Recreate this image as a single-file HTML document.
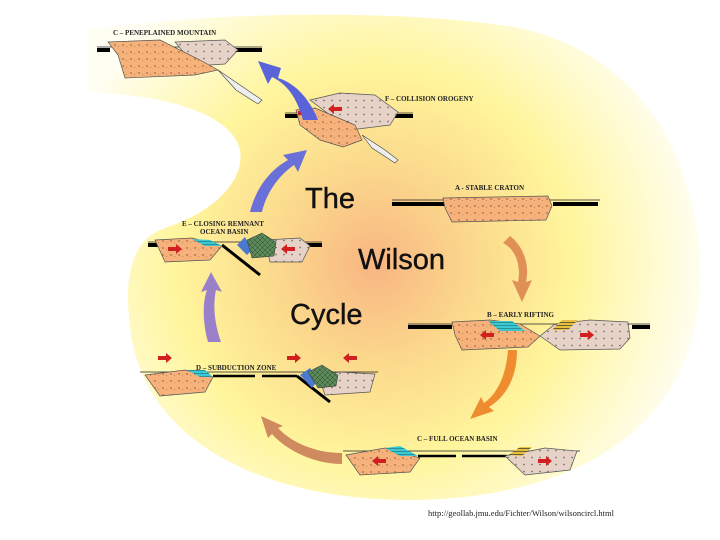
<!DOCTYPE html>
<html><head><meta charset="utf-8"><style>
html,body{margin:0;padding:0;background:#fff;}
svg{display:block;}
.lab{font-family:"Liberation Serif",serif;font-weight:bold;font-size:7px;fill:#222;}
.big{font-family:"Liberation Sans","DejaVu Sans",sans-serif;font-size:29px;fill:#111;stroke:#111;stroke-width:0.4;}
</style></head><body>
<svg width="720" height="540" viewBox="0 0 720 540" xmlns="http://www.w3.org/2000/svg">
<defs>
<radialGradient id="bg" cx="375" cy="265" r="330" gradientUnits="userSpaceOnUse">
<stop offset="0" stop-color="#f8b582"/>
<stop offset="0.3" stop-color="#fbd98c"/>
<stop offset="0.6" stop-color="#fff59c"/>
<stop offset="0.85" stop-color="#fffbd2"/>
<stop offset="1" stop-color="#fffef2"/>
</radialGradient>
<pattern id="po" width="8" height="7" patternUnits="userSpaceOnUse"><rect width="8" height="7" fill="#f6b27a"/><path d="M2 2l1 2l1-2M6 5l1-1" stroke="#8a5a3a" stroke-width="0.5" fill="none"/></pattern>
<pattern id="pp" width="8" height="7" patternUnits="userSpaceOnUse"><rect width="8" height="7" fill="#e6d2c6"/><path d="M3 2.5h2M4 1.5v2" stroke="#555" stroke-width="0.5"/></pattern>
<pattern id="pg" width="5" height="5" patternUnits="userSpaceOnUse"><rect width="5" height="5" fill="#5c8a5a"/><path d="M0 0l5 5M5 0l-5 5" stroke="#2e4e2e" stroke-width="0.5"/></pattern>
<pattern id="pc" width="4" height="3" patternUnits="userSpaceOnUse"><rect width="4" height="3" fill="#3cc8d0"/><path d="M0 1.5h4" stroke="#1a5a6a" stroke-width="0.5"/></pattern>
<pattern id="py" width="4" height="3" patternUnits="userSpaceOnUse"><rect width="4" height="3" fill="#e8c040"/><path d="M0 1.5h4" stroke="#333" stroke-width="0.7"/></pattern>
</defs>
<path d="M88,30 C200,12 400,8 520,28 C640,55 705,160 700,290 C692,420 590,495 420,500 C260,502 150,440 132,340 C122,280 130,240 165,228 C215,212 245,180 240,150 C232,115 170,95 88,92 Z" fill="url(#bg)"/>

<!-- G peneplained -->
<text class="lab" x="113" y="35">C – PENEPLAINED MOUNTAIN</text>
<path d="M97,47H262" stroke="#222" stroke-width="0.8"/>
<path d="M97,50H110M235,50H262" stroke="#000" stroke-width="4"/>
<path d="M175,42L225,40L238,50L225,64L195,66Z" fill="url(#pp)" stroke="#555" stroke-width="0.7"/>
<path d="M108,42L160,40L200,60L218,70L195,75L125,78L118,55Z" fill="url(#po)" stroke="#555" stroke-width="0.7"/>
<path d="M218,70L240,85L262,100L258,104L236,90Z" fill="#eee" stroke="#444" stroke-width="0.6"/>

<!-- F collision -->
<text class="lab" x="385" y="101">F – COLLISION OROGENY</text>
<path d="M285,113H413" stroke="#222" stroke-width="0.8"/>
<path d="M285,116H300M395,116H413" stroke="#000" stroke-width="4"/>
<path d="M310,100L340,93L375,95L398,112L390,125L350,130Z" fill="url(#pp)" stroke="#555" stroke-width="0.7"/>
<path d="M296,110L315,108L355,125L362,140L343,147L320,140L300,125Z" fill="url(#po)" stroke="#555" stroke-width="0.7"/>
<path d="M362,135L385,150L398,160L395,163L372,148Z" fill="#eee" stroke="#444" stroke-width="0.6"/>
<path d="M328,107h8v-3l6,5l-6,5v-3h-8z" fill="#d02020" transform="rotate(180 335 109)"/>
<path d="M298,111h8v-3l6,5l-6,5v-3h-8z" fill="#d02020"/>

<!-- A stable craton -->
<text class="lab" x="455" y="190">A  - STABLE CRATON</text>
<path d="M392,200H600" stroke="#222" stroke-width="0.8"/>
<path d="M392,204H445M553,204H598" stroke="#000" stroke-width="4"/>
<path d="M443,198L548,196L552,206L546,220L452,222L445,208Z" fill="url(#po)" stroke="#555" stroke-width="0.7"/>

<!-- B early rifting -->
<text class="lab" x="487" y="317">B – EARLY RIFTING</text>
<path d="M408,324H650" stroke="#222" stroke-width="0.8"/>
<path d="M408,327H452M632,327H650" stroke="#000" stroke-width="4"/>
<path d="M452,322L490,320L520,324L540,336L528,347L462,350L455,335Z" fill="url(#po)" stroke="#555" stroke-width="0.7"/>
<path d="M540,336L555,324L590,320L628,322L630,338L620,349L560,350Z" fill="url(#pp)" stroke="#555" stroke-width="0.7"/>
<path d="M488,321L512,321L525,331L500,331Z" fill="url(#pc)"/>
<path d="M552,330L562,320L578,320L568,330Z" fill="url(#py)"/>
<path d="M480,333h8v-3l6,5l-6,5v-3h-8z" fill="#d02020" transform="rotate(180 487 335)"/>
<path d="M580,333h8v-3l6,5l-6,5v-3h-8z" fill="#d02020"/>

<!-- C full ocean -->
<text class="lab" x="417" y="441">C – FULL OCEAN BASIN</text>
<path d="M343,451H580" stroke="#222" stroke-width="0.8"/>
<path d="M418,456H456M462,456H507" stroke="#000" stroke-width="2.5"/>
<path d="M346,455L385,448L420,458L410,472L360,475Z" fill="url(#po)" stroke="#555" stroke-width="0.7"/>
<path d="M385,448L400,446L418,456L400,456Z" fill="url(#pc)"/>
<path d="M505,456L545,448L577,451L570,470L525,475Z" fill="url(#pp)" stroke="#555" stroke-width="0.7"/>
<path d="M508,455L520,447L532,447L522,456Z" fill="url(#py)"/>
<path d="M372,459h8v-3l6,5l-6,5v-3h-8z" fill="#d02020" transform="rotate(180 379 461)"/>
<path d="M538,459h8v-3l6,5l-6,5v-3h-8z" fill="#d02020"/>

<!-- D subduction zone -->
<text class="lab" x="196" y="370">D – SUBDUCTION ZONE</text>
<path d="M140,372H378" stroke="#222" stroke-width="0.8"/>
<path d="M213,376H255M262,376H297" stroke="#000" stroke-width="2.5"/>
<path d="M297,376L330,402" stroke="#000" stroke-width="3"/>
<path d="M145,375L185,370L213,377L205,392L160,396Z" fill="url(#po)" stroke="#555" stroke-width="0.7"/>
<path d="M187,370L205,370L213,377L200,377Z" fill="url(#pc)"/>
<path d="M318,375L340,372L375,374L370,392L325,395Z" fill="url(#pp)" stroke="#555" stroke-width="0.7"/>
<path d="M300,375L310,368L318,380L312,388Z" fill="#4a7ad0"/>
<path d="M308,372L322,365L338,375L336,386L318,388Z" fill="url(#pg)" stroke="#333" stroke-width="0.5"/>
<path d="M158,356h8v-3l6,5l-6,5v-3h-8z" fill="#d02020"/>
<path d="M287,356h8v-3l6,5l-6,5v-3h-8z" fill="#d02020"/>
<path d="M343,356h8v-3l6,5l-6,5v-3h-8z" fill="#d02020" transform="rotate(180 350 358)"/>

<!-- E closing remnant -->
<text class="lab" x="182" y="226">E – CLOSING REMNANT</text>
<text class="lab" x="200" y="234">OCEAN BASIN</text>
<path d="M148,242H322" stroke="#222" stroke-width="0.8"/>
<path d="M148,245H160M305,245H322" stroke="#000" stroke-width="4"/>
<path d="M222,245L260,275" stroke="#000" stroke-width="3"/>
<path d="M155,240L192,238L222,246L210,260L165,262Z" fill="url(#po)" stroke="#555" stroke-width="0.7"/>
<path d="M192,239L210,240L222,246L205,246Z" fill="url(#pc)"/>
<path d="M265,240L300,238L310,246L302,262L270,262Z" fill="url(#pp)" stroke="#555" stroke-width="0.7"/>
<path d="M237,245L245,237L252,250L247,255Z" fill="#4a7ad0"/>
<path d="M247,240L262,233L276,242L274,256L252,258Z" fill="url(#pg)" stroke="#333" stroke-width="0.5"/>
<path d="M168,247h8v-3l6,5l-6,5v-3h-8z" fill="#d02020"/>
<path d="M281,247h8v-3l6,5l-6,5v-3h-8z" fill="#d02020" transform="rotate(180 288 249)"/>

<!-- arrows -->
<path d="M318,120 C308,95 292,82 278,78 L281,68 L258,61 L268,84 L272,77 C287,84 297,98 303,120Z" fill="#5a64d8"/>
<path d="M250,212 C256,188 270,170 288,160 L283,155 L307,150 L298,172 L294,165 C278,176 266,194 262,212Z" fill="#6a70d8"/>
<path d="M208,342 C202,320 203,300 207,290 L201,292 L211,272 L222,292 L216,290 C213,304 214,322 221,342Z" fill="#9a80c8"/>
<path d="M503,243 C517,250 521,268 518,282 L512,280 L522,302 L532,280 L526,282 C530,264 523,246 510,236Z" fill="#e09055"/>
<path d="M508,350 C506,376 497,394 484,403 L481,397 L470,419 L494,411 L489,407 C504,398 517,380 517,350Z" fill="#f08c30"/>
<path d="M342,453 C316,453 292,443 278,428 L283,426 L261,416 L268,438 L272,434 C286,450 314,464 342,464Z" fill="#d08a60"/>

<!-- title -->
<text class="big" x="305" y="208">The</text>
<text class="big" x="358" y="269">Wilson</text>
<text class="big" x="290" y="324">Cycle</text>
<text x="428" y="516" style="font-family:'Liberation Serif',serif;font-size:8.5px;fill:#222">http://geollab.jmu.edu/Fichter/Wilson/wilsoncircl.html</text>
</svg>
</body></html>
